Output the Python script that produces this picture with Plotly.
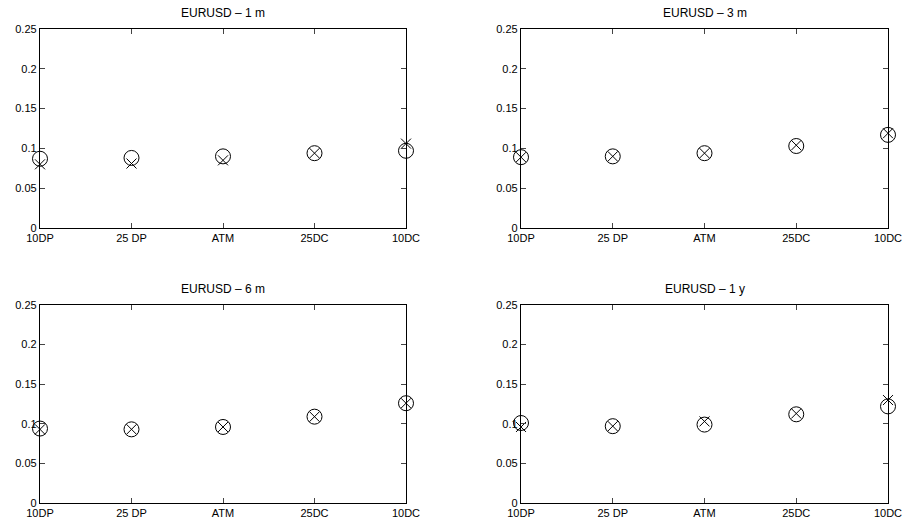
import plotly.graph_objects as go

categories = ["10DP", "25 DP", "ATM", "25DC", "10DC"]
titles = ["EURUSD – 1 m", "EURUSD – 3 m", "EURUSD – 6 m", "EURUSD – 1 y"]

circ_1m = [0.087, 0.088, 0.090, 0.094, 0.097]
cross_1m = [0.080, 0.081, 0.085, 0.094, 0.106]
circ_3m = [0.089, 0.090, 0.094, 0.103, 0.117]
cross_3m = [0.089, 0.090, 0.094, 0.104, 0.119]
circ_6m = [0.094, 0.093, 0.096, 0.109, 0.126]
cross_6m = [0.093, 0.093, 0.096, 0.109, 0.126]
circ_1y = [0.101, 0.097, 0.099, 0.112, 0.122]
cross_1y = [0.096, 0.097, 0.103, 0.113, 0.130]

y_ticks = [0, 0.05, 0.1, 0.15, 0.2, 0.25]
y_tick_text = ["0", "0.05", "0.1", "0.15", "0.2", "0.25"]

circles = [circ_1m, circ_3m, circ_6m, circ_1y]
crosses = [cross_1m, cross_3m, cross_6m, cross_1y]

W, H = 907, 526
# plot boxes in pixels: (left, right, top, bottom)
boxes = [(40, 406, 29, 228), (521, 888, 29, 228), (40, 406, 305, 503), (521, 888, 305, 503)]

fig = go.Figure()
xpos = list(range(len(categories)))
font = dict(family="Liberation Sans, Arial, sans-serif", size=11, color="black")
tfont = dict(family="Liberation Sans, Arial, sans-serif", size=12, color="black")

for i in range(4):
    xa = "x" if i == 0 else f"x{i+1}"
    ya = "y" if i == 0 else f"y{i+1}"
    fig.add_trace(go.Scatter(x=xpos, y=circles[i], mode="markers", xaxis=xa, yaxis=ya,
                             marker=dict(symbol="circle-open", size=15, color="black",
                                         line=dict(width=1, color="black")),
                             cliponaxis=False, showlegend=False))
    fig.add_trace(go.Scatter(x=xpos, y=crosses[i], mode="markers", xaxis=xa, yaxis=ya,
                             marker=dict(symbol="x-thin-open", size=10, color="black",
                                         line=dict(width=1, color="black")),
                             cliponaxis=False, showlegend=False))
    l, r, t, b = boxes[i]
    xkey = "xaxis" if i == 0 else f"xaxis{i+1}"
    ykey = "yaxis" if i == 0 else f"yaxis{i+1}"
    fig.layout[xkey] = dict(domain=[l / W, r / W], anchor=ya, range=[0, 4],
                            tickvals=xpos, ticktext=categories, ticks="inside", ticklen=5,
                            showline=True, linecolor="black", linewidth=1.3, mirror="ticks",
                            showgrid=False, zeroline=False, tickfont=font, fixedrange=True,
                            automargin=False)
    fig.layout[ykey] = dict(domain=[1 - b / H, 1 - t / H], anchor=xa, range=[0, 0.25],
                            tickvals=y_ticks, ticktext=y_tick_text, ticks="inside", ticklen=5,
                            showline=True, linecolor="black", linewidth=1.3, mirror="ticks",
                            showgrid=False, zeroline=False, tickfont=font, fixedrange=True,
                            automargin=False)
    fig.add_annotation(text=titles[i], x=(l + r) / 2 / W, y=1 - (t - 7) / H,
                       xref="paper", yref="paper", xanchor="center", yanchor="bottom",
                       showarrow=False, font=tfont)

fig.update_layout(width=W, height=H, margin=dict(l=0, r=0, t=0, b=0),
                  paper_bgcolor="white", plot_bgcolor="white")
fig.write_html("out.html")
